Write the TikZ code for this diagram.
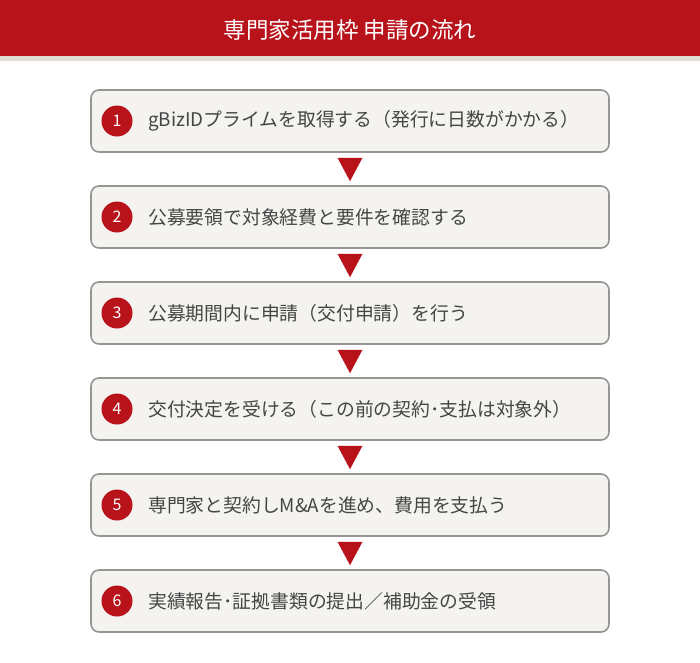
\documentclass[tikz,border=0pt]{standalone}
\usepackage{fontspec}
\setmainfont{Noto Sans CJK JP}
\usepackage{xcolor}
\usetikzlibrary{calc}
\definecolor{mainred}{HTML}{B8121B}
\definecolor{barline}{HTML}{E0DDD2}
\definecolor{boxfill}{HTML}{F4F3EF}
\definecolor{boxline}{HTML}{959595}
\definecolor{textgray}{HTML}{454545}
\tikzset{
	stepbox/.style={draw=boxline,line width=1.6pt,fill=boxfill,rounded corners=8pt,
		minimum width=518pt,minimum height=62pt},
	numdot/.style={circle,fill=mainred,text=white,minimum size=31pt,inner sep=0pt,
		font=\fontsize{16}{16}\selectfont},
	steptext/.style={anchor=west,inner sep=0pt,text=textgray,
		font=\fontsize{18.8}{20}\selectfont},
	downtri/.style={fill=mainred}
}
\begin{document}
\begin{tikzpicture}[x=1pt,y=-1pt]
	\useasboundingbox (0,0) rectangle (700,662);
	% title bar
	\fill[mainred] (0,0) rectangle (700,56);
	\fill[barline] (0,56) rectangle (700,61);
	\node[text=white,font=\fontsize{22.5}{24}\selectfont] (title) at (350,30) {専門家活用枠 申請の流れ};
	% boxes
	\node[stepbox] (B1) at (350,121) {};
	\node[stepbox] (B2) at (350,217) {};
	\node[stepbox] (B3) at (350,313) {};
	\node[stepbox] (B4) at (350,409) {};
	\node[stepbox] (B5) at (350,505) {};
	\node[stepbox] (B6) at (350,601) {};
	% numbers
	\node[numdot] (N1) at (117,121) {1};
	\node[numdot] (N2) at (117,217) {2};
	\node[numdot] (N3) at (117,313) {3};
	\node[numdot] (N4) at (117,409) {4};
	\node[numdot] (N5) at (117,505) {5};
	\node[numdot] (N6) at (117,601) {6};
	% texts
	\node[steptext] (T1) at (148,121) {gBizIDプライムを取得する（発行に日数がかかる）};
	\node[steptext] (T2) at (148,217) {公募要領で対象経費と要件を確認する};
	\node[steptext] (T3) at (148,313) {公募期間内に申請（交付申請）を行う};
	\node[steptext] (T4) at (148,409) {交付決定を受ける（この前の契約･支払は対象外）};
	\node[steptext] (T5) at (148,505) {専門家と契約しM\&Aを進め、費用を支払う};
	\node[steptext] (T6) at (148,601) {実績報告･証拠書類の提出／補助金の受領};
	% triangles
	\fill[downtri] ($(B1.south)+(-12.5,5)$) -- ($(B1.south)+(12.5,5)$) -- ($(B2.north)+(0,-4)$) -- cycle;
	\fill[downtri] ($(B2.south)+(-12.5,5)$) -- ($(B2.south)+(12.5,5)$) -- ($(B3.north)+(0,-4)$) -- cycle;
	\fill[downtri] ($(B3.south)+(-12.5,5)$) -- ($(B3.south)+(12.5,5)$) -- ($(B4.north)+(0,-4)$) -- cycle;
	\fill[downtri] ($(B4.south)+(-12.5,5)$) -- ($(B4.south)+(12.5,5)$) -- ($(B5.north)+(0,-4)$) -- cycle;
	\fill[downtri] ($(B5.south)+(-12.5,5)$) -- ($(B5.south)+(12.5,5)$) -- ($(B6.north)+(0,-4)$) -- cycle;
\end{tikzpicture}
\end{document}
